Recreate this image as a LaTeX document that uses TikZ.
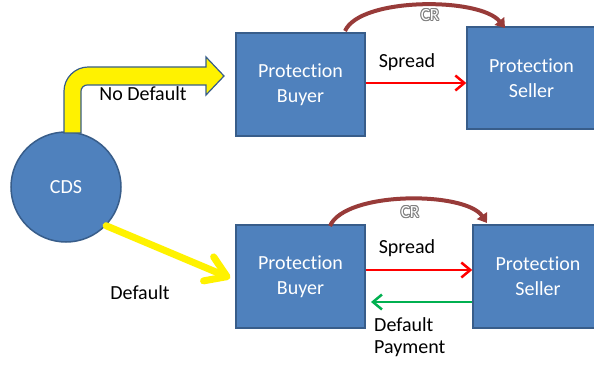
\documentclass[tikz,border=0pt]{standalone}
\usepackage{fontspec}
\setmainfont{Carlito}[Ligatures={NoCommon}]
\usetikzlibrary{arrows.meta}
\definecolor{boxfill}{HTML}{4F81BD}
\definecolor{boxborder}{HTML}{385D8A}
\definecolor{crcol}{HTML}{983B39}
\definecolor{greenarr}{HTML}{00B050}
\definecolor{glowcol}{HTML}{7F7F7F}
\newcommand{\glowtxt}[1]{\leavevmode
  \rlap{\textcolor{glowcol}{\kern-0.9pt #1}}%
  \rlap{\textcolor{glowcol}{\kern0.9pt #1}}%
  \rlap{\textcolor{glowcol}{\raisebox{0.9pt}{#1}}}%
  \rlap{\textcolor{glowcol}{\raisebox{-0.9pt}{#1}}}%
  \rlap{\textcolor{glowcol}{\kern-0.65pt\raisebox{0.65pt}{#1}}}%
  \rlap{\textcolor{glowcol}{\kern0.65pt\raisebox{-0.65pt}{#1}}}%
  \rlap{\textcolor{glowcol}{\kern0.65pt\raisebox{0.65pt}{#1}}}%
  \rlap{\textcolor{glowcol}{\kern-0.65pt\raisebox{-0.65pt}{#1}}}%
  \textcolor{white}{#1}}
\tikzset{
  party/.style={draw=boxborder, fill=boxfill, line width=1.5pt, text=white,
    align=center, inner sep=0pt, minimum width=129pt, minimum height=103pt,
    font=\fontsize{20}{25}\selectfont},
  cdsnode/.style={circle, draw=boxborder, fill=boxfill, line width=1.5pt, text=white,
    minimum size=110pt, inner sep=0pt, font=\fontsize{20}{24}\selectfont},
  lbl/.style={font=\fontsize{20}{22}\selectfont, text=black, inner sep=0pt},
  crlbl/.style={font=\fontsize{17}{18}\selectfont, inner sep=0pt},
  spreadarrow/.style={draw=red, line width=2.5pt, -{Straight Barb[length=9pt,width=15pt]}},
  payarrow/.style={draw=greenarr, line width=2.5pt, -{Straight Barb[length=9pt,width=15pt]}},
  crarrow/.style={draw=crcol, line width=4pt, -{Triangle[length=9pt,width=12pt]}},
  yellowbent/.style={fill=yellow, draw=boxborder, line width=1.2pt, line join=miter},
  yellowline/.style={draw=yellow, line width=7pt, line cap=round,
    -{Straight Barb[length=20pt,width=26pt,round]}}
}
\begin{document}
\begin{tikzpicture}[x=1pt,y=-1pt]
\useasboundingbox (0,0) rectangle (594,369);
\clip (0,0) rectangle (594,369);

% nodes
\node[cdsnode] (cds) at (66,187) {CDS};
\node[party] (tb) at (300.5,84.5) {Protection\\Buyer};
\node[party, minimum height=102pt] (ts) at (531.5,78) {Protection\\Seller};
\node[party] (bb) at (300.5,276.5) {Protection\\Buyer};
\node[party, minimum width=130pt] (bs) at (538,276.5) {Protection\\Seller};

% yellow bent arrow (No Default)
\draw[yellowbent] (64,133) -- (64,91) .. controls (64,78) and (75,67) .. (88,67)
  -- (206,67) -- (206,57) -- (224,76) -- (206,95) -- (206,85) -- (87,85)
  .. controls (84,85) and (81,88) .. (81,91) -- (81,133) -- cycle;
\node[lbl] (nodef) at (143,94) {No Default};

% yellow straight arrow (Default)
\draw[yellowline] (cds.-44) -- ([xshift=-5pt,yshift=-1.5pt]bb.west);
\node[lbl] (def) at (140,293) {Default};

% top flows
\draw[spreadarrow] ([yshift=1.5pt]tb.east) -- ([yshift=1.5pt]tb.east -| ts.west);
\node[lbl] (sp1) at (407,62) {Spread};
\draw[crarrow] (345,31) .. controls (360,-3) and (480,-3) .. (505,28);
\node[crlbl] (cr1) at (430,15) {\glowtxt{CR}};

% bottom flows
\draw[spreadarrow] ([yshift=6.5pt]bb.east) -- ([yshift=6.5pt]bb.east -| bs.west);
\node[lbl] (sp2) at (407,248) {Spread};
\coordinate (gend) at (371,302);
\draw[payarrow] ([yshift=-25.5pt]bs.west) -- (gend);
\node[lbl, align=left, anchor=west] (dp) at (374,337) {Default\\Payment};
\draw[crarrow] (330,226) .. controls (345,191) and (465,191) .. (487,223);
\node[crlbl] (cr2) at (410,212) {\glowtxt{CR}};
\end{tikzpicture}
\end{document}
